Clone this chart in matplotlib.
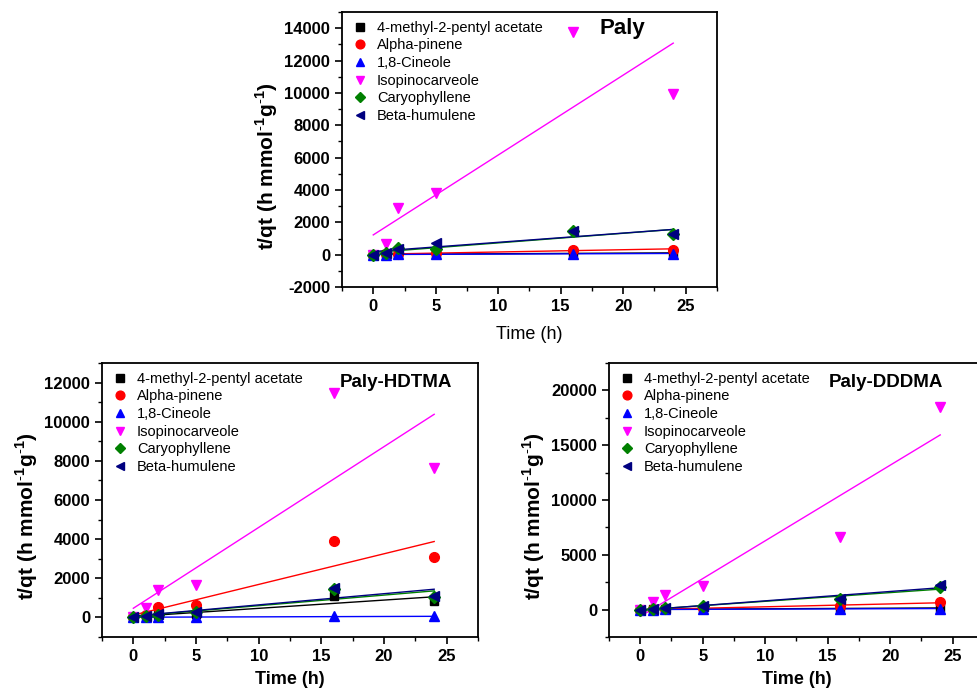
import numpy as np
import matplotlib
matplotlib.use("Agg")
import matplotlib.pyplot as plt
from matplotlib.ticker import MultipleLocator

plt.rcParams['font.family'] = ['Liberation Sans', 'DejaVu Sans']
plt.rcParams['axes.unicode_minus'] = False
plt.rcParams['mathtext.fontset'] = 'custom'
plt.rcParams['mathtext.rm'] = 'Liberation Sans'
plt.rcParams['mathtext.bf'] = 'Liberation Sans:bold'

time_h = [0, 1, 2, 5, 16, 24]
names = ["4-methyl-2-pentyl acetate", "Alpha-pinene", "1,8-Cineole",
         "Isopinocarveole", "Caryophyllene", "Beta-humulene"]
colors = ["#000000", "#FF0000", "#0000FF", "#FF00FF", "#008000", "#000080"]
markers = ["s", "o", "^", "v", "D", "<"]
msizes = [6, 7, 7, 7, 6, 7]

# t/qt values, one list per compound
paly_methyl = [0, 20, 35, 50, 80, 110]
paly_alpha = [0, 30, 60, 110, 310, 320]
paly_cineole = [0, 10, 20, 30, 60, 70]
paly_isopino = [0, 650, 2875, 3810, 13750, 9960]
paly_caryo = [0, 100, 400, 380, 1480, 1300]
paly_humulene = [0, 80, 370, 700, 1480, 1270]

hdtma_methyl = [0, 50, 120, 200, 1100, 815]
hdtma_alpha = [0, 100, 510, 645, 3900, 3085]
hdtma_cineole = [0, 10, 20, 30, 50, 50]
hdtma_isopino = [0, 475, 1400, 1640, 11490, 7630]
hdtma_caryo = [0, 60, 150, 280, 1440, 1030]
hdtma_humulene = [0, 70, 190, 300, 1490, 1120]

dddma_methyl = [0, 20, 40, 60, 110, 150]
dddma_alpha = [0, 30, 60, 120, 360, 660]
dddma_cineole = [0, 10, 20, 30, 60, 100]
dddma_isopino = [0, 690, 1355, 2200, 6630, 18520]
dddma_caryo = [0, 80, 150, 360, 960, 2050]
dddma_humulene = [0, 80, 150, 360, 960, 2230]


def draw_panel(ax, series, title, title_xy, title_size, ylim, ymajor,
               xlabel_weight, xlabel_pad):
    x = np.array(time_h, dtype=float)
    for i, y in enumerate(series):
        y = np.array(y, dtype=float)
        k, b = np.polyfit(x, y, 1)
        xf = np.array([0, 24])
        ax.plot(xf, k * xf + b, color=colors[i], lw=1.0, zorder=2)
    for i, y in enumerate(series):
        ax.plot(x, y, linestyle="none", marker=markers[i], ms=msizes[i],
                color=colors[i], label=names[i], zorder=3)
    ax.set_xlim(-2.5, 27.5)
    ax.set_ylim(*ylim)
    ax.xaxis.set_major_locator(MultipleLocator(5))
    ax.xaxis.set_minor_locator(MultipleLocator(2.5))
    ax.yaxis.set_major_locator(MultipleLocator(ymajor))
    ax.yaxis.set_minor_locator(MultipleLocator(ymajor / 2))
    ax.tick_params(which="major", direction="out", length=5, width=1.2,
                   labelsize=12, top=False, right=False)
    ax.tick_params(which="minor", direction="out", length=3, width=1.0,
                   top=False, right=False)
    for lab in ax.get_xticklabels() + ax.get_yticklabels():
        lab.set_fontweight("bold")
    for s in ax.spines.values():
        s.set_linewidth(1.3)
    ax.set_xlabel("Time (h)", fontsize=13, fontweight=xlabel_weight,
                  labelpad=xlabel_pad)
    ax.set_ylabel(r"t/qt (h mmol$^{\mathbf{\text{-}1}}$g$^{\mathbf{\text{-}1}}$)",
                  fontsize=15, fontweight="bold", labelpad=3)
    ax.yaxis.label.set_y(0.44)
    ax.text(title_xy[0], title_xy[1], title, transform=ax.transAxes,
            fontsize=title_size, fontweight="bold", ha="center", va="center")
    ax.legend(loc="upper left", frameon=False, fontsize=10.5,
              handletextpad=0.6, labelspacing=0.25, borderaxespad=0.2,
              handlelength=1.2, markerscale=0.9)


fig = plt.figure(figsize=(9.78, 6.88), dpi=100)

ax1 = fig.add_axes([0.3497, 0.5828, 0.3834, 0.3997])
draw_panel(ax1, [paly_methyl, paly_alpha, paly_cineole, paly_isopino,
                 paly_caryo, paly_humulene],
           "Paly", (0.749, 0.94), 16, (-2000, 15000), 2000, "normal", 9)

ax2 = fig.add_axes([0.1043, 0.0741, 0.3845, 0.3983])
draw_panel(ax2, [hdtma_methyl, hdtma_alpha, hdtma_cineole, hdtma_isopino,
                 hdtma_caryo, hdtma_humulene],
           "Paly-HDTMA", (0.782, 0.93), 13.5, (-1000, 13000), 2000, "bold", 5)

ax3 = fig.add_axes([0.6227, 0.0741, 0.3834, 0.3983])
draw_panel(ax3, [dddma_methyl, dddma_alpha, dddma_cineole, dddma_isopino,
                 dddma_caryo, dddma_humulene],
           "Paly-DDDMA", (0.739, 0.93), 13.5, (-2500, 22500), 5000, "bold", 5)

fig.savefig("out.png", dpi=100)
